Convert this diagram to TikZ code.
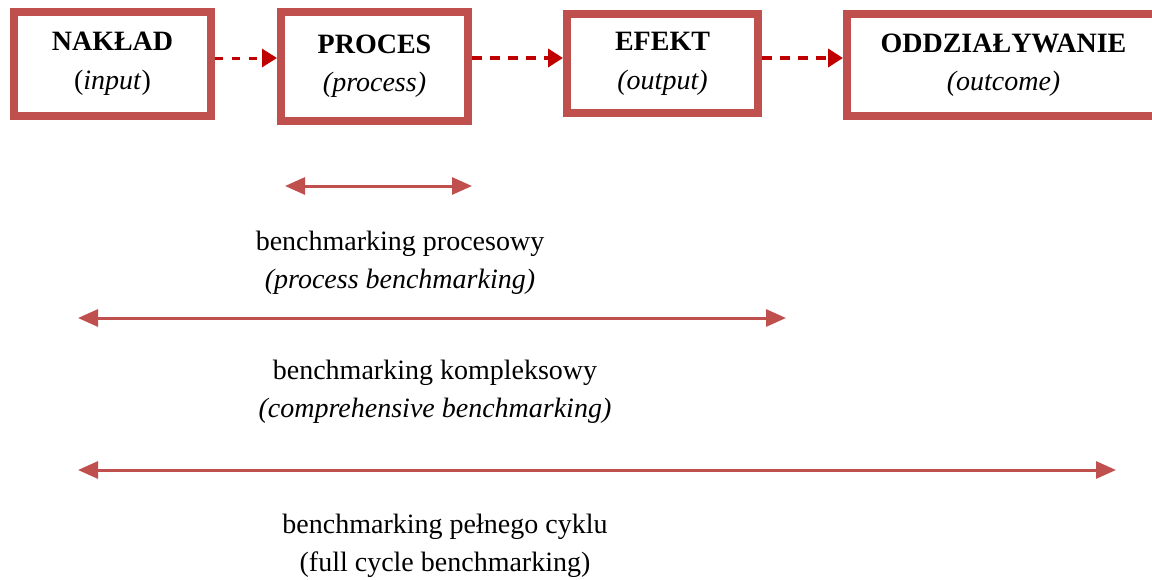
\documentclass[tikz,border=0pt]{standalone}
\usepackage{fontspec}
\setmainfont{Liberation Serif}
\usetikzlibrary{arrows.meta}
\definecolor{boxred}{HTML}{C0504D}
\definecolor{darkred}{HTML}{C00000}
\begin{document}
\begin{tikzpicture}[x=1pt, y=-1pt,
  stage/.style={draw=boxred, line width=8pt, align=center, inner sep=0pt, font=\fontsize{28}{38}\selectfont},
  flow/.style={draw=darkred, line width=4pt, dash pattern=on 10pt off 8pt, -{Triangle[length=15pt,width=18pt]}},
  span/.style={draw=boxred, line width=3pt, {Triangle[length=20pt,width=17pt]}-{Triangle[length=20pt,width=17pt]}},
  lbl/.style={align=center, inner sep=0pt, font=\fontsize{28}{38}\selectfont}]
\useasboundingbox (0,0) rectangle (1152,579);
\node[stage, minimum width=197pt, minimum height=104pt] (nakl) at (112.5,64){\textbf{NAKŁAD}\\[1pt](\textit{input})};
\node[stage, minimum width=187pt, minimum height=109pt] (proc) at (374.5,66.5){\textbf{PROCES}\\\textit{(process)}};
\node[stage, minimum width=191pt, minimum height=99pt] (efek) at (662.5,63.5){\textbf{EFEKT}\\[1pt]\textit{(output)}};
\node[stage, minimum width=313pt, minimum height=102pt] (oddz) at (1003.5,65){\textbf{ODDZIAŁYWANIE}\\\textit{(outcome)}};
\draw[flow, line width=3pt, dash pattern=on 8pt off 9pt]([yshift=6pt]nakl.east) -- ([yshift=8.5pt]proc.west);
\draw[flow]([yshift=8.5pt]proc.east) -- ([yshift=5.5pt]efek.west);
\draw[flow]([yshift=5.5pt]efek.east) -- ([yshift=7pt]oddz.west);
\coordinate (p1) at (285,186);
\coordinate (p2) at (472,186);
\draw[span](p1) -- (p2);
\node[lbl] (plab) at (400,263){benchmarking procesowy\\\textit{(process benchmarking)}};
\coordinate (k1) at (78,318);
\coordinate (k2) at (786,318);
\draw[span](k1) -- (k2);
\node[lbl] (klab) at (435,392){benchmarking kompleksowy\\\textit{(comprehensive benchmarking)}};
\coordinate (c1) at (78,470);
\coordinate (c2) at (1116,470);
\draw[span](c1) -- (c2);
\node[lbl] (clab) at (445,546){benchmarking pełnego cyklu\\(full cycle benchmarking)};
\end{tikzpicture}
\end{document}
